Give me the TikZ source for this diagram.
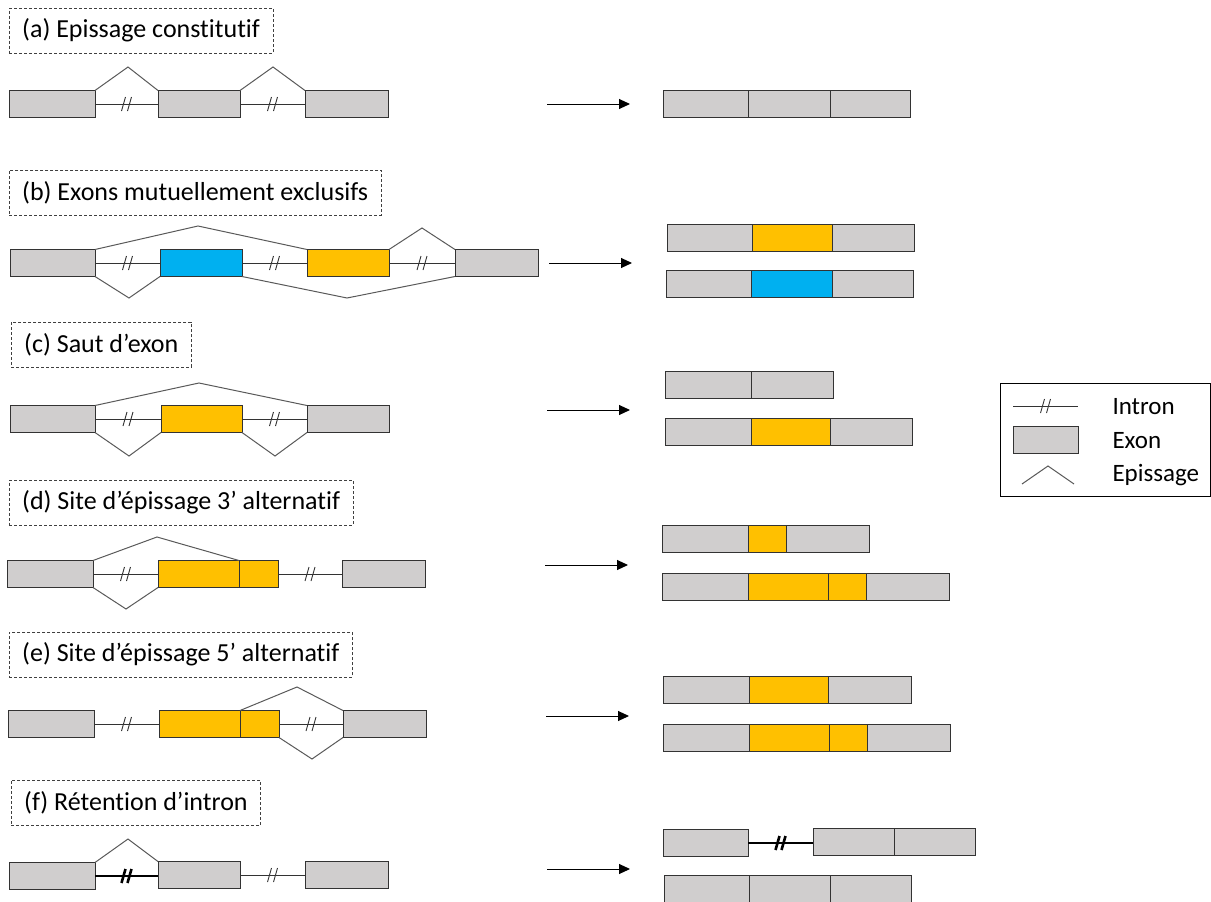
\documentclass[tikz,border=0pt]{standalone}
\usepackage{fontspec}
\setmainfont{Carlito}[Ligatures=NoCommon]
\usetikzlibrary{calc, positioning, arrows.meta}

\definecolor{exongray}{HTML}{D0CECE}
\definecolor{exonorange}{HTML}{FFC000}
\definecolor{exonblue}{HTML}{00B0F0}
\definecolor{splicegray}{HTML}{595959}

\tikzset{
	exon/.style={draw=black!80, fill=exongray, line width=1pt, minimum height=27pt, inner sep=0pt, outer sep=0pt, anchor=west},
	alt/.style={exon, fill=exonorange},
	mut/.style={exon, fill=exonblue},
	lbl/.style={draw=black!75, dashed, dash pattern=on 3pt off 2pt, anchor=north west, minimum height=45pt, inner xsep=13pt, font=\fontsize{26}{30}\selectfont},
	splice/.style={draw=splicegray, line width=1pt},
	intron/.style={draw=black!80, line width=0.9pt},
	retained/.style={draw=black, line width=2.6pt},
	arr/.style={-{Triangle[length=11pt,width=10pt]}, line width=1pt},
	cut/.pic={\draw[pic actions] (-5,7) -- (-1,-7) (1,7) -- (5,-7);}
}

\begin{document}
\begin{tikzpicture}[x=1pt, y=-1pt, font=\fontsize{25}{29}\selectfont]
	\useasboundingbox (0,0) rectangle (1211,902);

	% labels %
	\node[lbl] (la) at (9,8) {(a) Epissage constitutif};
	\node[lbl] (lb) at (9,170) {(b) Exons mutuellement exclusifs};
	\node[lbl] (lc) at (11,322) {(c) Saut d’exon};
	\node[lbl] (ld) at (9,480) {(d) Site d’épissage 3’ alternatif};
	\node[lbl] (le) at (9,632) {(e) Site d’épissage 5’ alternatif};
	\node[lbl] (lf) at (11,780) {(f) Rétention d’intron};

	% (a) %
	\node[exon, minimum width=86] (a1) at (9,104) {};
	\node[exon, minimum width=82] (a2) at (158,104) {};
	\node[exon, minimum width=83] (a3) at (305,104) {};
	\coordinate (pa1) at (128,67);
	\coordinate (pa2) at (273,67);
	\draw[intron] (a1.east) -- coordinate (ia1) (a2.west);
	\draw[intron] (a2.east) -- coordinate (ia2) (a3.west);
	\pic[intron] at (ia1) {cut};
	\pic[intron] at (ia2) {cut};
	\draw[splice] (a1.north east) -- (pa1) -- (a2.north west);
	\draw[splice] (a2.north east) -- (pa2) -- (a3.north west);
	\coordinate (xa) at (547,104);
	\coordinate (ya) at (630,104);
	\draw[arr] (xa) -- (ya);
	\node[exon, minimum width=85] (ra1) at (663,104) {};
	\node[exon, minimum width=82, right=0pt of ra1] (ra2) {};
	\node[exon, minimum width=80, right=0pt of ra2] (ra3) {};

	% (b) %
	\node[exon, minimum width=85] (b1) at (10,263) {};
	\node[mut, minimum width=82] (b2) at (160,263) {};
	\node[alt, minimum width=82] (b3) at (307,263) {};
	\node[exon, minimum width=83] (b4) at (455,263) {};
	\coordinate (pb1) at (198,226);
	\coordinate (pb2) at (422,228);
	\coordinate (pb3) at (129,298);
	\coordinate (pb4) at (347,298);
	\draw[intron] (b1.east) -- coordinate (ib1) (b2.west);
	\draw[intron] (b2.east) -- coordinate (ib2) (b3.west);
	\draw[intron] (b3.east) -- coordinate (ib3) (b4.west);
	\pic[intron] at (ib1) {cut};
	\pic[intron] at (ib2) {cut};
	\pic[intron] at (ib3) {cut};
	\draw[splice] (b1.north east) -- (pb1) -- (b3.north west);
	\draw[splice] (b3.north east) -- (pb2) -- (b4.north west);
	\draw[splice] (b1.south east) -- (pb3) -- (b2.south west);
	\draw[splice] (b2.south east) -- (pb4) -- (b4.south west);
	\coordinate (xb) at (549,263);
	\coordinate (yb) at (632,263);
	\draw[arr] (xb) -- (yb);
	\node[exon, minimum width=85] (rb1) at (667,238) {};
	\node[alt, minimum width=80, right=0pt of rb1] (rb2) {};
	\node[exon, minimum width=82, right=0pt of rb2] (rb3) {};
	\node[exon, minimum width=85] (rb4) at (666,284) {};
	\node[mut, minimum width=81, right=0pt of rb4] (rb5) {};
	\node[exon, minimum width=81, right=0pt of rb5] (rb6) {};

	% (c) %
	\node[exon, minimum width=85] (c1) at (10,419) {};
	\node[alt, minimum width=81] (c2) at (161,419) {};
	\node[exon, minimum width=82] (c3) at (307,419) {};
	\coordinate (pc1) at (199,383);
	\coordinate (pc2) at (129,456);
	\coordinate (pc3) at (275,456);
	\draw[intron] (c1.east) -- coordinate (ic1) (c2.west);
	\draw[intron] (c2.east) -- coordinate (ic2) (c3.west);
	\pic[intron] at (ic1) {cut};
	\pic[intron] at (ic2) {cut};
	\draw[splice] (c1.north east) -- (pc1) -- (c3.north west);
	\draw[splice] (c1.south east) -- (pc2) -- (c2.south west);
	\draw[splice] (c2.south east) -- (pc3) -- (c3.south west);
	\coordinate (xc) at (547,410);
	\coordinate (yc) at (630,410);
	\draw[arr] (xc) -- (yc);
	\node[exon, minimum width=86] (rc1) at (665,385) {};
	\node[exon, minimum width=82, right=0pt of rc1] (rc2) {};
	\node[exon, minimum width=86] (rc3) at (665,432) {};
	\node[alt, minimum width=79, right=0pt of rc3] (rc4) {};
	\node[exon, minimum width=82, right=0pt of rc4] (rc5) {};

	% (d) %
	\node[exon, minimum width=86] (d1) at (7,574) {};
	\node[alt, minimum width=81] (d2) at (158,574) {};
	\node[alt, minimum width=39, right=0pt of d2] (d3) {};
	\node[exon, minimum width=83] (d4) at (342,574) {};
	\coordinate (pd1) at (157,537);
	\coordinate (pd2) at (126,609);
	\draw[intron] (d1.east) -- coordinate (id1) (d2.west);
	\draw[intron] (d3.east) -- coordinate (id2) (d4.west);
	\pic[intron] at (id1) {cut};
	\pic[intron] at (id2) {cut};
	\draw[splice] (d1.north east) -- (pd1) -- (d2.north east);
	\draw[splice] (d1.south east) -- (pd2) -- (d2.south west);
	\coordinate (xd) at (545,565);
	\coordinate (yd) at (628,565);
	\draw[arr] (xd) -- (yd);
	\node[exon, minimum width=86] (rd1) at (662,539) {};
	\node[alt, minimum width=38, right=0pt of rd1] (rd2) {};
	\node[exon, minimum width=83, right=0pt of rd2] (rd3) {};
	\node[exon, minimum width=86] (rd4) at (662,587) {};
	\node[alt, minimum width=80, right=0pt of rd4] (rd5) {};
	\node[alt, minimum width=38, right=0pt of rd5] (rd6) {};
	\node[exon, minimum width=83, right=0pt of rd6] (rd7) {};

	% (e) %
	\node[exon, minimum width=86] (e1) at (8,724) {};
	\node[alt, minimum width=81] (e2) at (159,724) {};
	\node[alt, minimum width=39, right=0pt of e2] (e3) {};
	\node[exon, minimum width=83] (e4) at (343,724) {};
	\coordinate (pe1) at (297,687);
	\coordinate (pe2) at (312,759);
	\draw[intron] (e1.east) -- coordinate (ie1) (e2.west);
	\draw[intron] (e3.east) -- coordinate (ie2) (e4.west);
	\pic[intron] at (ie1) {cut};
	\pic[intron] at (ie2) {cut};
	\draw[splice] (e2.north east) -- (pe1) -- (e4.north west);
	\draw[splice] (e3.south east) -- (pe2) -- (e4.south west);
	\coordinate (xe) at (546,716);
	\coordinate (ye) at (629,716);
	\draw[arr] (xe) -- (ye);
	\node[exon, minimum width=86] (re1) at (663,690) {};
	\node[alt, minimum width=79, right=0pt of re1] (re2) {};
	\node[exon, minimum width=83, right=0pt of re2] (re3) {};
	\node[exon, minimum width=86] (re4) at (663,738) {};
	\node[alt, minimum width=80, right=0pt of re4] (re5) {};
	\node[alt, minimum width=38, right=0pt of re5] (re6) {};
	\node[exon, minimum width=83, right=0pt of re6] (re7) {};

	% (f) %
	\node[exon, minimum width=86] (f1) at (9,876) {};
	\node[exon, minimum width=82] (f2) at (158,875) {};
	\node[exon, minimum width=83] (f3) at (305,875) {};
	\coordinate (pf1) at (128,839);
	\draw[retained] (f1.east) -- coordinate (if1) (f2.west |- f1.east);
	\draw[intron] (f2.east) -- coordinate (if2) (f3.west);
	\pic[retained] at (if1) {cut};
	\pic[intron] at (if2) {cut};
	\draw[splice] (f1.north east) -- (pf1) -- (f2.north west);
	\coordinate (xf) at (547,869);
	\coordinate (yf) at (630,869);
	\draw[arr] (xf) -- (yf);
	\node[exon, minimum width=85] (rf1) at (663,843) {};
	\node[exon, minimum width=81] (rf2) at (813,842) {};
	\node[exon, minimum width=81, right=0pt of rf2] (rf3) {};
	\draw[retained] (rf1.east) -- coordinate (irf) (rf2.west |- rf1.east);
	\pic[retained] at (irf) {cut};
	\node[exon, minimum width=85] (rf4) at (664,889) {};
	\node[exon, minimum width=81, right=0pt of rf4] (rf5) {};
	\node[exon, minimum width=81, right=0pt of rf5] (rf6) {};

	% legend %
	\node[draw, line width=1.2pt, minimum width=210, minimum height=113, inner sep=0pt, anchor=north west] (leg) at (1000,383) {};
	\coordinate (li1) at (1013,406);
	\coordinate (li2) at (1078,406);
	\draw[intron] (li1) -- coordinate (lim) (li2);
	\pic[intron] at (lim) {cut};
	\node[exon, minimum width=65] (lex) at (1013,440) {};
	\coordinate (ls1) at (1022,484);
	\coordinate (ls2) at (1048,466);
	\coordinate (ls3) at (1074,484);
	\draw[splice] (ls1) -- (ls2) -- (ls3);
	\node[anchor=west] (tin) at (1109,407) {Intron};
	\node[anchor=west] (tex) at (1109,441) {Exon};
	\node[anchor=west] (tep) at (1109,475) {Epissage};
\end{tikzpicture}
\end{document}
